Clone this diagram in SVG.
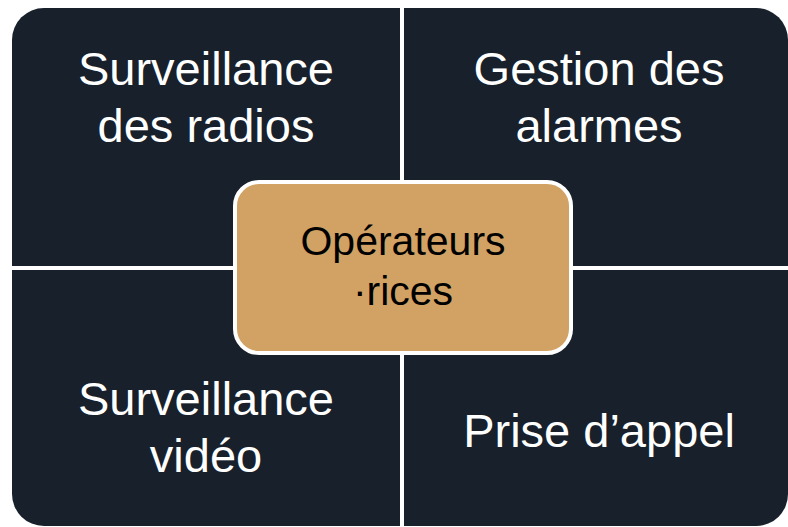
<svg xmlns="http://www.w3.org/2000/svg" width="788" height="527" viewBox="0 0 788 527">
  <style>
    .quad { fill: #17202b; }
    .qtext { font-family: "Liberation Sans", Arial, sans-serif; font-size: 47px; fill: #ffffff; text-anchor: middle; }
    .center { fill: #d1a263; stroke: #ffffff; stroke-width: 4; }
    .ctext { font-family: "Liberation Sans", Arial, sans-serif; font-size: 41px; fill: #000000; text-anchor: middle; }
  </style>
  <rect x="0" y="0" width="788" height="527" fill="#ffffff"/>
  <g id="surveillance-radios">
    <path class="quad" d="M12,40 A32,32 0 0 1 44,8 H400 V266 H12 Z"/>
    <text class="qtext" x="206" y="85">Surveillance</text>
    <text class="qtext" x="206" y="142">des radios</text>
  </g>
  <g id="gestion-alarmes">
    <path class="quad" d="M404,8 H756 A32,32 0 0 1 788,40 V266 H404 Z"/>
    <text class="qtext" x="599" y="85">Gestion des</text>
    <text class="qtext" x="599" y="142">alarmes</text>
  </g>
  <g id="surveillance-video">
    <path class="quad" d="M12,270 H400 V526 H44 A32,32 0 0 1 12,494 Z"/>
    <text class="qtext" x="206" y="415">Surveillance</text>
    <text class="qtext" x="206" y="472">vidéo</text>
  </g>
  <g id="prise-appel">
    <path class="quad" d="M404,270 H788 V494 A32,32 0 0 1 756,526 H404 Z"/>
    <text class="qtext" x="599" y="447">Prise d’appel</text>
  </g>
  <g id="operateurs">
    <rect class="center" x="235" y="182" width="336" height="171" rx="24" ry="24"/>
    <text class="ctext" x="403" y="255">Opérateurs</text>
    <text class="ctext" x="403" y="305">·rices</text>
  </g>
</svg>
